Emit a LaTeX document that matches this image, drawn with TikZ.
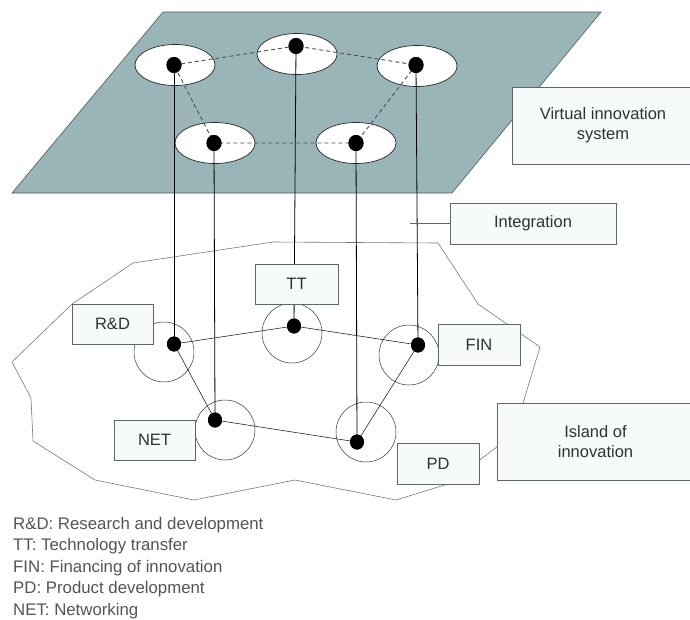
\documentclass[tikz,border=0pt]{standalone}
\usepackage{fontspec}
\setmainfont{Liberation Sans}
\usetikzlibrary{shapes.geometric}
\definecolor{planefill}{HTML}{9AB5B7}
\definecolor{planeedge}{HTML}{4A5A5A}
\definecolor{islandedge}{HTML}{6E7E76}
\definecolor{boxedge}{HTML}{5E6666}
\definecolor{boxfill}{HTML}{F7FAFA}
\definecolor{txt}{HTML}{2E3232}
\definecolor{legendtxt}{HTML}{505656}
\definecolor{dashcol}{HTML}{4A5050}
\begin{document}
\begin{tikzpicture}[x=1pt,y=-1pt,
  conn/.style={black, line width=0.8pt},
  thinconn/.style={black!85, line width=0.6pt},
  dashl/.style={dashcol, line width=0.9pt, dash pattern=on 4pt off 3pt},
  topell/.style={ellipse, draw=black!85, fill=white, minimum width=80pt, minimum height=41pt, inner sep=0pt, line width=0.7pt},
  bigdot/.style={ellipse, fill=black, minimum width=15pt, minimum height=16pt, inner sep=0pt},
  smalldot/.style={ellipse, fill=black, minimum width=14pt, minimum height=15pt, inner sep=0pt},
  ring/.style={circle, draw=black!80, minimum size=60pt, inner sep=0pt, line width=0.5pt},
  lbl/.style={draw=boxedge, fill=boxfill, text=txt, font=\fontsize{16.5}{20}\selectfont, inner sep=0pt, line width=0.6pt, align=center},
  legend/.style={anchor=west, text=legendtxt, font=\fontsize{16.8}{20}\selectfont, inner sep=0pt},
]
\useasboundingbox (0,0) rectangle (690,619);

% virtual plane
\filldraw[fill=planefill, draw=planeedge, line width=0.6pt]
  (163,12) -- (601,12) -- (452,193) -- (12,193) -- cycle;

% top ellipses
\node[topell] (eLT) at (175,65) {};
\node[topell] (eTT) at (297,54) {};
\node[topell] (eRT) at (417,66) {};
\node[topell] (eLB) at (215,143) {};
\node[topell] (eRB) at (356,143) {};

% top dots
\node[bigdot] (vRD) at (174,65) {};
\node[bigdot] (vTT) at (296,46) {};
\node[bigdot] (vFIN) at (416,65) {};
\node[bigdot] (vNET) at (214,143) {};
\node[bigdot] (vPD) at (356,143) {};

% dashed pentagon
\draw[dashl] (vRD.center) -- (vTT.center) -- (vFIN.center) -- (vPD.center) -- (vNET.center) -- (vRD.center);
\foreach \n in {vRD,vTT,vFIN,vNET,vPD} \node[bigdot] at (\n) {};

% island outline
\draw[islandedge, line width=0.6pt]
  (273,242) -- (438,243) -- (478,304) -- (540,347) -- (523,403) -- (510,437)
  -- (448,484) -- (396,500) -- (295,480) -- (194,500) -- (95,480) -- (33,441)
  -- (31,398) -- (12,362) -- (72,304) -- (133,263) -- cycle;

% rings
\node[ring] (cRD) at (164,352) {};
\node[ring] (cTT) at (292,333) {};
\node[ring] (cFIN) at (409,355) {};
\node[ring] (cNET) at (225,430) {};
\node[ring] (cPD) at (366,432) {};

% bottom dots
\node[smalldot] (bRD) at (174,344) {};
\node[smalldot] (bTT) at (294,326) {};
\node[smalldot] (bFIN) at (418,345) {};
\node[smalldot] (bNET) at (215,420) {};
\node[smalldot] (bPD) at (357,442) {};

% vertical integration links
\draw[conn] (vRD.center) -- (bRD.center);
\draw[conn] (vNET.center) -- (bNET.center);
\draw[conn] (vTT.center) -- (bTT.center);
\draw[conn] (vPD.center) -- (bPD.center);
\draw[conn] (vFIN.center) -- (bFIN.center);

% island links
\draw[thinconn] (bRD.center) -- (bTT.center) -- (bFIN.center) -- (bPD.center) -- (bNET.center) -- (bRD.center);

% label boxes
\node[lbl, minimum width=83pt, minimum height=40pt] (lTT) at (296.5,284) {TT};
\node[lbl, minimum width=81pt, minimum height=40pt] (lRD) at (112.5,324) {R\&D};
\node[lbl, minimum width=82pt, minimum height=41pt] (lFIN) at (479,344.5) {FIN};
\node[lbl, minimum width=81pt, minimum height=40pt] (lNET) at (154.5,440) {NET};
\node[lbl, minimum width=82pt, minimum height=41pt] (lPD) at (438,463.5) {PD};

% side boxes
\coordinate (intEnd) at (410,223.5);
\node[lbl, minimum width=166pt, minimum height=41pt] (lInt) at (533,223.5) {Integration};
\draw[boxedge, line width=0.6pt] (intEnd) -- (lInt.west);
\node[lbl, minimum width=182pt, minimum height=77pt] (lVIS) at (603,125.5) {Virtual innovation\\system};
\node[lbl, minimum width=197pt, minimum height=77pt] (lIsl) at (595.5,441.5) {Island of\\innovation};

% redraw dots on top
\foreach \n in {bRD,bTT,bFIN,bNET,bPD} \node[smalldot] at (\n) {};

% legend
\node[legend] (g1) at (13,525) {R\&D: Research and development};
\node[legend] (g2) at (13,546.5) {TT: Technology transfer};
\node[legend] (g3) at (13,568) {FIN: Financing of innovation};
\node[legend] (g4) at (13,589.5) {PD: Product development};
\node[legend] (g5) at (13,611) {NET: Networking};
\end{tikzpicture}
\end{document}
